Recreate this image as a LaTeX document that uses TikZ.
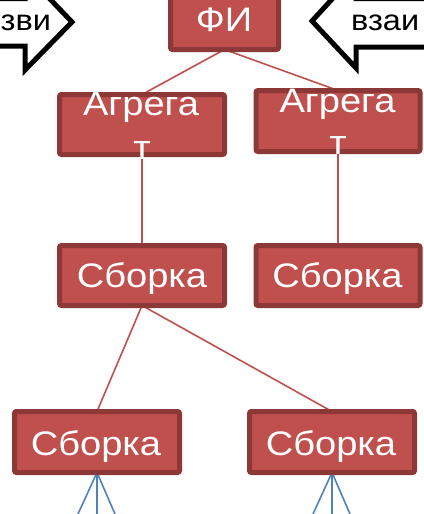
\documentclass[tikz,border=0pt]{standalone}
\usepackage{fontspec}
\setmainfont{Liberation Sans}
\newfontfamily\boxfont[FakeStretch=1.12]{Liberation Sans}
\usetikzlibrary{backgrounds}
\definecolor{boxfill}{RGB}{192,80,77}
\definecolor{boxdraw}{RGB}{140,56,54}
\definecolor{linkred}{RGB}{192,80,77}
\definecolor{linkblue}{RGB}{79,129,189}
\tikzset{
  unitbox/.style={rectangle, fill=boxfill, draw=boxdraw, line width=5pt,
    rounded corners=2pt, inner sep=0pt, outer sep=0pt},
  boxtext/.style={anchor=base, inner sep=0pt, text=white, font=\boxfont\fontsize{34}{38}\selectfont},
  calltext/.style={anchor=base, inner sep=0pt, text=black, font=\boxfont\fontsize{29}{32}\selectfont},
  callout/.style={draw=black, fill=white, line width=5pt, miter limit=10},
  redlink/.style={draw=linkred, line width=1.6pt},
  bluelink/.style={draw=linkblue, line width=1.6pt}
}
\begin{document}
\begin{tikzpicture}[x=1pt, y=-1pt]
\useasboundingbox (0,0) rectangle (423,514);
% callouts
\draw[callout] (-10,-1.5) -- (25,-1.5) -- (25,-27) -- (72,22) -- (25,70) -- (25,46) -- (-10,46) -- cycle;
\draw[callout] (433,-1.5) -- (356,-1.5) -- (356,-27) -- (312,21) -- (356,68) -- (356,47) -- (433,47) -- cycle;
\node[calltext, anchor=base west] (tl) at (0.5,30) {зви};
\node[calltext, anchor=base west] (tr) at (351,30) {взаи};
% boxes
\node[unitbox, minimum width=108pt, minimum height=57pt] (fi) at (224.5,21) {};
\node[unitbox, minimum width=165pt, minimum height=60pt] (agl) at (142,124.5) {};
\node[unitbox, minimum width=164pt, minimum height=61pt] (agr) at (338,121) {};
\node[unitbox, minimum width=165pt, minimum height=60pt] (sbl) at (142,275.5) {};
\node[unitbox, minimum width=164pt, minimum height=60pt] (sbr) at (338,275.5) {};
\node[unitbox, minimum width=165pt, minimum height=61pt] (bl) at (97,442) {};
\node[unitbox, minimum width=165pt, minimum height=61pt] (br) at (332,442) {};
% texts
\node[boxtext] (tfi) at (224,31) {ФИ};
\node[boxtext] (tagl1) at (141,115) {Агрега};
\node[boxtext] (tagl2) at (142,159) {т};
\node[boxtext] (tagr1) at (337.5,112) {Агрега};
\node[boxtext] (tagr2) at (338,154) {т};
\node[boxtext] (tsbl) at (142,287) {Сборка};
\node[boxtext] (tsbr) at (337.5,287) {Сборка};
\node[boxtext] (tbl) at (96,455) {Сборка};
\node[boxtext] (tbr) at (331,455) {Сборка};
% free ends
\coordinate (b1) at (78,514);
\coordinate (b2) at (97,514);
\coordinate (b3) at (115,514);
\coordinate (b4) at (313,514);
\coordinate (b5) at (332,514);
\coordinate (b6) at (350,514);
\begin{scope}[on background layer]
\fill[white] (0,0) rectangle (423,514);
\draw[redlink] (fi.south) -- (agl.north);
\draw[redlink] (fi.south) -- (agr.north);
\draw[redlink] (agl.south) -- (sbl.north);
\draw[redlink] (agr.south) -- (sbr.north);
\draw[redlink] (sbl.south) -- (bl.north);
\draw[redlink] (sbl.south) -- (br.north);
\draw[bluelink] (bl.south) -- (b1);
\draw[bluelink] (bl.south) -- (b2);
\draw[bluelink] (bl.south) -- (b3);
\draw[bluelink] (br.south) -- (b4);
\draw[bluelink] (br.south) -- (b5);
\draw[bluelink] (br.south) -- (b6);
\end{scope}
\end{tikzpicture}
\end{document}
